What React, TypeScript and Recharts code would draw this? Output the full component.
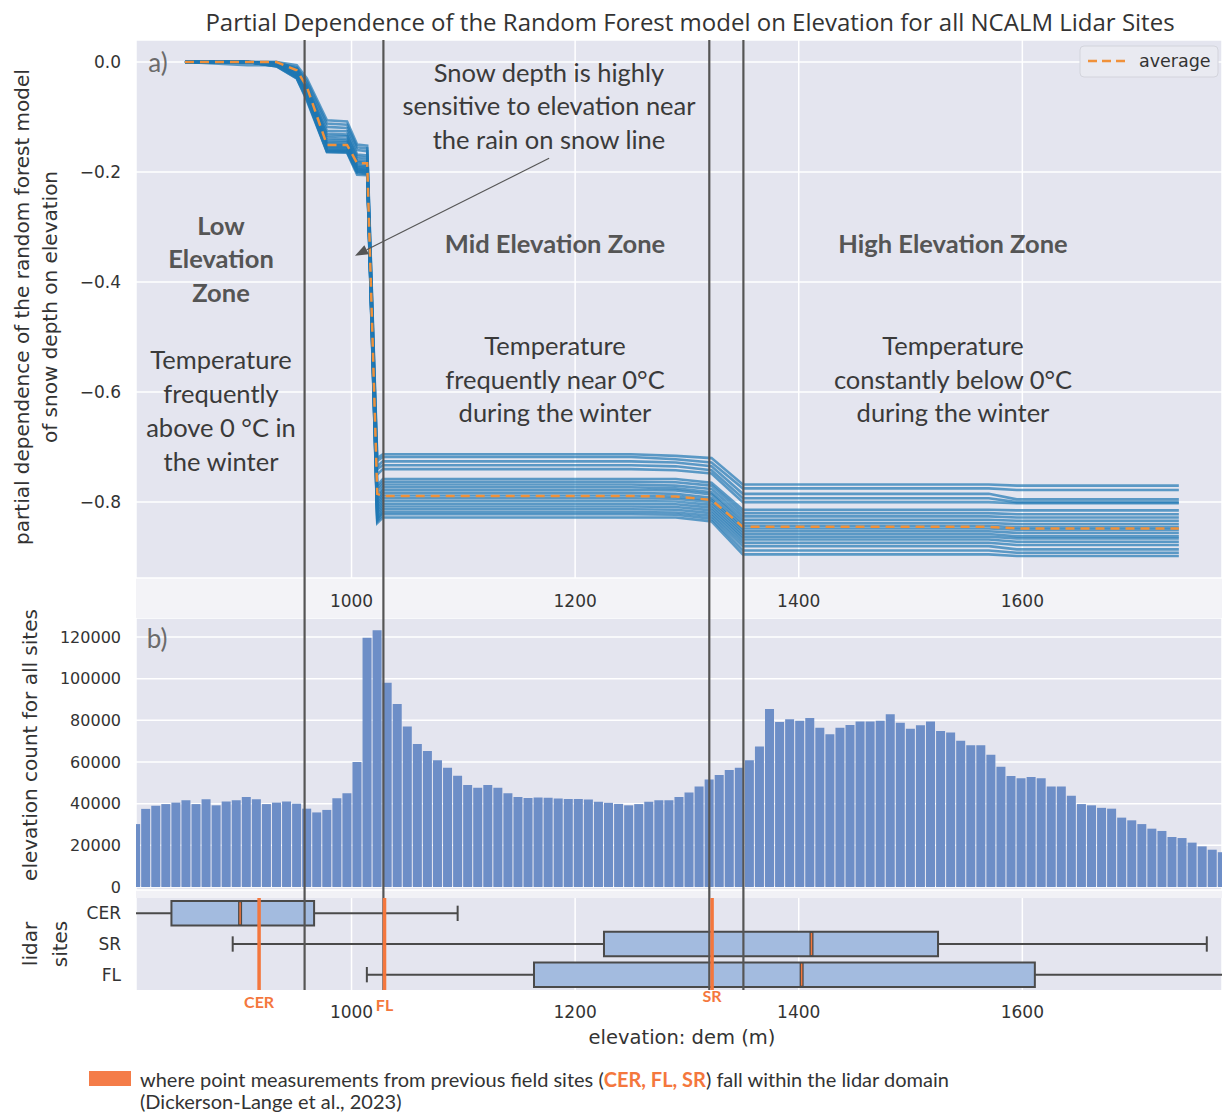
import React from "react";
import {
  LineChart,
  Line,
  BarChart,
  Bar,
  ComposedChart,
  Scatter,
  XAxis,
  YAxis,
  CartesianGrid,
  ReferenceLine,
  ReferenceArea,
} from "recharts";

// shared elevation axis (m)
const elevDomain = [807.2, 1778.6];
const elevTicks = [1000, 1200, 1400, 1600];
const zoneBounds = [958, 1028.5, 1320, 1350.5];

// a) ICE curves, sampled at these elevations
const iceElev = [851, 898, 907, 933, 951, 960, 978, 996, 1005, 1014, 1023, 1028, 1250, 1290, 1322, 1350, 1395, 1570, 1595, 1740];
const iceLines = [
  [0, 0, 0, 0, -0.006, -0.03, -0.106, -0.108, -0.15, -0.152, -0.72, -0.713, -0.713, -0.716, -0.72, -0.768, -0.768, -0.768, -0.77, -0.77],
  [0, 0, 0, -0.002, -0.01, -0.035, -0.112, -0.114, -0.155, -0.157, -0.725, -0.718, -0.718, -0.722, -0.728, -0.775, -0.775, -0.775, -0.778, -0.778],
  [0, 0, 0, 0, -0.012, -0.04, -0.118, -0.12, -0.16, -0.162, -0.735, -0.726, -0.726, -0.728, -0.735, -0.785, -0.785, -0.785, -0.795, -0.795],
  [0, 0, 0, -0.003, -0.015, -0.045, -0.125, -0.126, -0.168, -0.17, -0.74, -0.733, -0.733, -0.735, -0.742, -0.793, -0.793, -0.793, -0.8, -0.8],
  [0, -0.005, -0.006, -0.006, -0.02, -0.05, -0.13, -0.132, -0.172, -0.174, -0.75, -0.74, -0.74, -0.742, -0.748, -0.8, -0.8, -0.8, -0.802, -0.802],
  [0, 0, 0, -0.002, -0.012, -0.042, -0.134, -0.135, -0.176, -0.178, -0.77, -0.758, -0.758, -0.758, -0.765, -0.814, -0.814, -0.814, -0.815, -0.815],
  [0, 0, 0, -0.004, -0.018, -0.05, -0.138, -0.14, -0.18, -0.182, -0.775, -0.763, -0.763, -0.764, -0.77, -0.82, -0.82, -0.82, -0.822, -0.822],
  [0, 0, 0, -0.002, -0.014, -0.048, -0.142, -0.143, -0.182, -0.184, -0.78, -0.768, -0.768, -0.77, -0.776, -0.826, -0.826, -0.826, -0.828, -0.828],
  [0, 0, 0, -0.004, -0.02, -0.055, -0.145, -0.146, -0.185, -0.187, -0.79, -0.773, -0.773, -0.775, -0.782, -0.832, -0.832, -0.832, -0.834, -0.834],
  [0, 0, 0, -0.003, -0.016, -0.05, -0.148, -0.149, -0.188, -0.19, -0.795, -0.778, -0.778, -0.779, -0.786, -0.838, -0.838, -0.838, -0.84, -0.84],
  [0, 0, 0, -0.005, -0.022, -0.058, -0.15, -0.151, -0.19, -0.192, -0.8, -0.783, -0.783, -0.785, -0.792, -0.843, -0.843, -0.843, -0.846, -0.846],
  [0, 0, 0, -0.004, -0.018, -0.052, -0.152, -0.153, -0.192, -0.194, -0.805, -0.788, -0.788, -0.79, -0.796, -0.848, -0.848, -0.848, -0.85, -0.85],
  [0, 0, 0, -0.006, -0.024, -0.06, -0.154, -0.155, -0.194, -0.196, -0.81, -0.793, -0.793, -0.794, -0.8, -0.853, -0.853, -0.853, -0.856, -0.856],
  [0, 0, 0, -0.005, -0.02, -0.056, -0.156, -0.157, -0.195, -0.197, -0.815, -0.798, -0.798, -0.799, -0.805, -0.858, -0.858, -0.858, -0.862, -0.862],
  [0, 0, 0, -0.006, -0.025, -0.062, -0.158, -0.159, -0.196, -0.198, -0.82, -0.803, -0.803, -0.804, -0.81, -0.863, -0.863, -0.863, -0.866, -0.866],
  [0, 0, 0, -0.007, -0.026, -0.065, -0.16, -0.161, -0.198, -0.2, -0.825, -0.808, -0.808, -0.809, -0.815, -0.868, -0.868, -0.868, -0.872, -0.872],
  [0, 0, 0, -0.006, -0.028, -0.066, -0.161, -0.162, -0.199, -0.201, -0.83, -0.813, -0.813, -0.814, -0.82, -0.874, -0.874, -0.874, -0.878, -0.878],
  [0, 0, 0, -0.008, -0.03, -0.068, -0.162, -0.163, -0.2, -0.202, -0.832, -0.818, -0.818, -0.819, -0.825, -0.88, -0.88, -0.88, -0.886, -0.886],
  [0, 0, 0, -0.007, -0.028, -0.066, -0.163, -0.164, -0.202, -0.204, -0.835, -0.822, -0.822, -0.823, -0.83, -0.888, -0.888, -0.888, -0.892, -0.892],
  [0, 0, 0, -0.008, -0.03, -0.07, -0.164, -0.165, -0.205, -0.206, -0.838, -0.828, -0.828, -0.828, -0.835, -0.895, -0.895, -0.895, -0.898, -0.898],
];
const iceAverage = [0, 0, 0, 0, -0.015, -0.045, -0.151, -0.151, -0.184, -0.184, -0.785, -0.789, -0.789, -0.79, -0.796, -0.845, -0.845, -0.845, -0.848, -0.848];
const pdTicks = [0, -0.2, -0.4, -0.6, -0.8];

// b) elevation histogram, 9 m bins
const binStart = 802.3;
const binWidth = 9;
const binCounts = [
  30200, 37500, 39000, 39800, 40500, 41600, 39800, 42100, 39200, 41100,
  41600, 43200, 42100, 39800, 40500, 41100, 40000, 37600, 35800, 37000,
  42600, 45000, 60000, 119700, 123200, 98000, 87800, 77100, 68600, 65300,
  60800, 57300, 53400, 49000, 47700, 49000, 47700, 45000, 43200, 42700,
  43000, 42800, 42500, 42300, 42300, 42000, 40900, 40400, 39900, 39200,
  39800, 40900, 41600, 41600, 43200, 45400, 48300, 51600, 53800, 56200,
  57300, 60800, 67500, 85400, 79200, 80500, 79800, 81100, 76500, 73300,
  76500, 77800, 79400, 79400, 79800, 82900, 78900, 76000, 77600, 79400,
  74900, 74200, 70200, 68000, 68000, 63500, 57700, 53300, 52200, 52800,
  52200, 48200, 48200, 43800, 39800, 39200, 38000, 37600, 33300, 32000,
  30200, 28000, 26900, 24000, 23500, 21300, 19500, 17900, 16700,
];
const countTicks = [0, 20000, 40000, 60000, 80000, 100000, 120000];

// c) lidar site box plots
const sites = ["CER", "SR", "FL"];
const boxLow = [790, 893.7, 1013.7];
const boxQ1 = [838.9, 1225.8, 1163.2];
const boxMed = [900.3, 1411.4, 1402.6];
const boxQ3 = [966.5, 1524.6, 1611.2];
const boxHigh = [1094.9, 1765, 1800];

// previous field sites
const fieldSites = ["CER", "FL", "SR"];
const fieldElev = [917.3, 1029.5, 1322.5];

const iceRows = iceElev.map((e, i) => {
  const row: Record<string, number> = { e, avg: iceAverage[i] };
  iceLines.forEach((l, j) => (row[`l${j}`] = l[i]));
  return row;
});
const histRows = binCounts.map((count, i) => ({ e: binStart + binWidth * (i + 0.5), count }));
const boxRows = sites.map((name, i) => ({ name, idx: i, med: boxMed[i] }));

const PANEL = "#e4e5ef";
const DARK = "#555";
const ORANGE = "#f4773d";
const tickStyle = { fontSize: 17, fill: "#333" };
const fmtPd = (v: number) => (v === 0 ? "0.0" : "\u2212" + Math.abs(v).toFixed(1));

const Arrow = (p: any) => {
  const { x1, y1, x2, y2 } = p;
  const a = Math.atan2(y2 - y1, x2 - x1);
  const bx = x2 - 13 * Math.cos(a);
  const by = y2 - 13 * Math.sin(a);
  const s = Math.sin(a) * 5;
  const c = Math.cos(a) * 5;
  return (
    <g>
      <line x1={x1} y1={y1} x2={bx} y2={by} stroke={DARK} strokeWidth={1.2} />
      <polygon points={`${x2},${y2} ${bx - s},${by + c} ${bx + s},${by - c}`} fill={DARK} />
    </g>
  );
};

const annot = { fontFamily: "Lato", fontSize: 25.5, fill: "#3a3a3a", textAnchor: "middle" as const, dominantBaseline: "central" as const };
const zoneTitle = { ...annot, fontWeight: 700, fill: "#555" };

function Lines({ x, ys, lines, style }: { x: number; ys: number[]; lines: string[]; style: any }) {
  return (
    <>
      {lines.map((t, i) => (
        <text key={i} x={x} y={ys[i]} {...style}>
          {t}
        </text>
      ))}
    </>
  );
}

export default function App() {
  return (
    <div style={{ position: "absolute", left: 0, top: 0, width: 1222, height: 1114, background: "#fff", overflow: "hidden", fontFamily: "DejaVu Sans" }}>
      <div style={{ position: "absolute", left: 136, top: 578, width: 1086, height: 40, background: "#f3f3f7" }} />
      <div style={{ position: "absolute", left: 136, top: 890, width: 1086, height: 8, background: "#f1f1f6" }} />

      {/* a) partial dependence */}
      <div style={{ position: "absolute", left: 0, top: 0 }}>
        <LineChart width={1222} height={618} data={iceRows} margin={{ top: 40, right: 0, bottom: 0, left: 0 }}>
          <CartesianGrid fill={PANEL} stroke="#fff" strokeWidth={1.5} />
          <XAxis dataKey="e" type="number" domain={elevDomain} allowDataOverflow ticks={elevTicks} height={40} tick={tickStyle} tickLine={false} axisLine={false} tickMargin={11} />
          <YAxis type="number" domain={[-0.938, 0.04]} allowDataOverflow ticks={pdTicks} tickFormatter={fmtPd} width={136} tick={tickStyle} tickLine={false} axisLine={false} tickMargin={9} />
          {iceLines.map((_, j) => (
            <Line key={j} dataKey={`l${j}`} type="linear" stroke="#1f77b4" strokeOpacity={0.7} strokeWidth={2.6} dot={false} isAnimationActive={false} />
          ))}
          <Line dataKey="avg" type="linear" stroke="#f0913a" strokeWidth={2.5} strokeDasharray="9 6" dot={false} isAnimationActive={false} />
          {zoneBounds.map((b) => (
            <ReferenceLine key={b} segment={[{ x: b, y: 0.04 }, { x: b, y: -1.0132 }]} ifOverflow="visible" stroke={DARK} strokeWidth={2.2} />
          ))}
          <ReferenceLine segment={[{ x: 1176.7, y: -0.175 }, { x: 1003.1, y: -0.352 }]} ifOverflow="visible" shape={Arrow} />
        </LineChart>
      </div>

      {/* b) histogram */}
      <div style={{ position: "absolute", left: 0, top: 618 }}>
        <BarChart width={1222} height={280} data={histRows} margin={{ top: 0, right: 0, bottom: 8, left: 0 }} barCategoryGap={0.6}>
          <CartesianGrid fill={PANEL} stroke="#fff" strokeWidth={1.5} />
          <XAxis dataKey="e" type="number" domain={elevDomain} allowDataOverflow ticks={elevTicks} height={0} tick={false} tickLine={false} axisLine={false} />
          <YAxis type="number" domain={[-1440, 129120]} allowDataOverflow ticks={countTicks} width={136} tick={{ ...tickStyle, fontSize: 16 }} tickLine={false} axisLine={false} tickMargin={9} />
          <Bar dataKey="count" fill="#6d8ec7" isAnimationActive={false} />
          {zoneBounds.map((b) => (
            <ReferenceLine key={b} segment={[{ x: b, y: 129120 }, { x: b, y: -5280 }]} ifOverflow="visible" stroke={DARK} strokeWidth={2.2} />
          ))}
        </BarChart>
      </div>

      {/* c) box plots */}
      <div style={{ position: "absolute", left: 0, top: 898 }}>
        <ComposedChart width={1222} height={216} data={boxRows} margin={{ top: 0, right: 0, bottom: 64, left: 0 }}>
          <CartesianGrid fill={PANEL} stroke="#fff" strokeWidth={1.5} horizontal={false} />
          <XAxis dataKey="med" type="number" domain={elevDomain} allowDataOverflow ticks={elevTicks} height={60} tick={tickStyle} tickLine={false} axisLine={false} tickMargin={10} />
          <YAxis dataKey="idx" type="number" domain={[-0.5, 2.5]} reversed allowDataOverflow ticks={[0, 1, 2]} tickFormatter={(i: number) => sites[i]} width={136} tick={tickStyle} tickLine={false} axisLine={false} tickMargin={9} />
          <Scatter dataKey="idx" shape={() => <g />} isAnimationActive={false} />
          {sites.map((s, i) => (
            <React.Fragment key={s}>
              <ReferenceLine segment={[{ x: boxLow[i], y: i }, { x: boxQ1[i], y: i }]} ifOverflow="hidden" stroke="#4a4a4a" strokeWidth={2} />
              <ReferenceLine segment={[{ x: boxQ3[i], y: i }, { x: boxHigh[i], y: i }]} ifOverflow="hidden" stroke="#4a4a4a" strokeWidth={2} />
              <ReferenceLine segment={[{ x: boxLow[i], y: i - 0.25 }, { x: boxLow[i], y: i + 0.25 }]} ifOverflow="hidden" stroke="#4a4a4a" strokeWidth={2} />
              <ReferenceLine segment={[{ x: boxHigh[i], y: i - 0.25 }, { x: boxHigh[i], y: i + 0.25 }]} ifOverflow="hidden" stroke="#4a4a4a" strokeWidth={2} />
              <ReferenceArea x1={boxQ1[i]} x2={boxQ3[i]} y1={i - 0.4} y2={i + 0.4} ifOverflow="hidden" fill="#a3bbdf" fillOpacity={1} stroke="#4a4a4a" strokeWidth={2} />
              <ReferenceLine segment={[{ x: boxMed[i], y: i - 0.4 }, { x: boxMed[i], y: i + 0.4 }]} stroke="#4a4a4a" strokeWidth={4} />
              <ReferenceLine segment={[{ x: boxMed[i], y: i - 0.36 }, { x: boxMed[i], y: i + 0.36 }]} stroke={ORANGE} strokeWidth={1.5} />
            </React.Fragment>
          ))}
          {zoneBounds.map((b) => (
            <ReferenceLine key={b} x={b} stroke={DARK} strokeWidth={2.2} />
          ))}
          {fieldSites.map((s, i) => (
            <ReferenceLine
              key={s}
              x={fieldElev[i]}
              stroke={ORANGE}
              strokeWidth={3.5}
              label={{ value: s, position: "bottom", offset: [7, 10, 1][i], fill: ORANGE, fontSize: 16, fontWeight: 700, fontFamily: "Lato" }}
            />
          ))}
        </ComposedChart>
      </div>

      {/* titles, annotations, legends */}
      <svg width={1222} height={1114} style={{ position: "absolute", left: 0, top: 0, pointerEvents: "none" }}>
        <text x={690} y={21} textAnchor="middle" dominantBaseline="central" fontFamily="Open Sans" fontSize={24} fill="#333">
          Partial Dependence of the Random Forest model on Elevation for all NCALM Lidar Sites
        </text>
        <text x={158} y={62} textAnchor="middle" dominantBaseline="central" fontFamily="Lato" fontSize={26} fill="#6b6b6b">a)</text>
        <text x={157} y={638} textAnchor="middle" dominantBaseline="central" fontFamily="Lato" fontSize={26} fill="#6b6b6b">b)</text>

        <Lines x={549} ys={[72, 105, 139]} lines={["Snow depth is highly", "sensitive to elevation near", "the rain on snow line"]} style={annot} />
        <Lines x={221} ys={[225, 258, 292]} lines={["Low", "Elevation", "Zone"]} style={zoneTitle} />
        <Lines x={221} ys={[359, 393, 427, 461]} lines={["Temperature", "frequently", "above 0 \u00b0C in", "the winter"]} style={annot} />
        <Lines x={555} ys={[243]} lines={["Mid Elevation Zone"]} style={zoneTitle} />
        <Lines x={555} ys={[345, 379, 412]} lines={["Temperature", "frequently near 0\u00b0C", "during the winter"]} style={annot} />
        <Lines x={953} ys={[243]} lines={["High Elevation Zone"]} style={zoneTitle} />
        <Lines x={953} ys={[345, 379, 412]} lines={["Temperature", "constantly below 0\u00b0C", "during the winter"]} style={annot} />

        <text transform="rotate(-90 22 307)" x={22} y={307} textAnchor="middle" dominantBaseline="central" fontSize={20} fill="#333">
          partial dependence of the random forest model
        </text>
        <text transform="rotate(-90 50 307)" x={50} y={307} textAnchor="middle" dominantBaseline="central" fontSize={20} fill="#333">
          of snow depth on elevation
        </text>
        <text transform="rotate(-90 30 745)" x={30} y={745} textAnchor="middle" dominantBaseline="central" fontSize={20} fill="#333">
          elevation count for all sites
        </text>
        <text transform="rotate(-90 30 944)" x={30} y={944} textAnchor="middle" dominantBaseline="central" fontSize={20} fill="#333">lidar</text>
        <text transform="rotate(-90 60 944)" x={60} y={944} textAnchor="middle" dominantBaseline="central" fontSize={20} fill="#333">sites</text>
        <text x={682} y={1037} textAnchor="middle" dominantBaseline="central" fontSize={19.5} fill="#333">elevation: dem (m)</text>

        <rect x={1080} y={46} width={138} height={31} rx={4} fill="#e9eaf1" stroke="#d3d4dc" />
        <line x1={1088} y1={61} x2={1126} y2={61} stroke="#f0913a" strokeWidth={2.5} strokeDasharray="9 5" />
        <text x={1139} y={61} dominantBaseline="central" fontSize={17.5} fill="#333">average</text>

        <rect x={89} y={1071} width={42} height={15} fill="#f47c48" />
        <text x={140} y={1079} dominantBaseline="central" fontFamily="Lato" fontSize={20} fill="#333">
          where point measurements from previous field sites (<tspan fill={ORANGE} fontWeight={700}>CER, FL, SR</tspan>) fall within the lidar domain
        </text>
        <text x={140} y={1101} dominantBaseline="central" fontFamily="Lato" fontSize={20} fill="#333">
          (Dickerson-Lange et al., 2023)
        </text>
      </svg>
    </div>
  );
}
